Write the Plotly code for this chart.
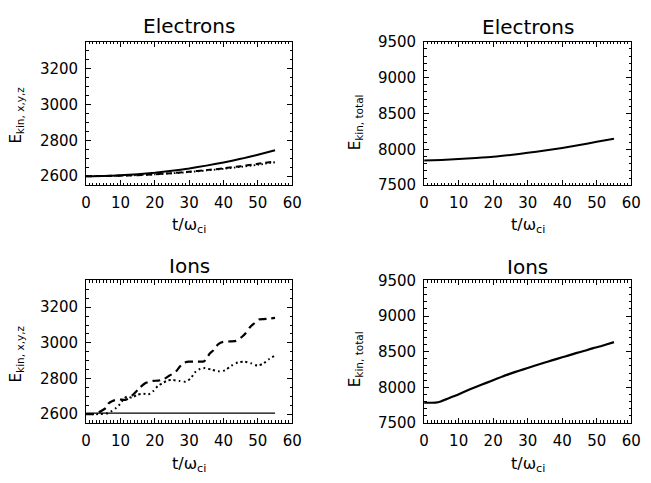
import plotly.graph_objects as go

W, H = 651, 483
FONT = "DejaVu Sans"

# ---------------- data ----------------
# Electrons, x/y/z components
e_t = [0, 5, 10, 15, 20, 25, 30, 35, 40, 45, 50, 55]
e_x = [2600, 2601, 2605, 2611, 2619, 2630, 2643, 2659, 2677, 2697, 2720, 2745]
e_y = [2600, 2601, 2603, 2606, 2611, 2617, 2625, 2634, 2644, 2656, 2669, 2683]
e_z = [2600, 2601, 2603, 2606, 2610, 2616, 2623, 2632, 2641, 2652, 2664, 2678]

# Electrons, total
et_t = [0, 5, 10, 15, 20, 25, 30, 35, 40, 45, 50, 55]
et_v = [7843, 7852, 7865, 7880, 7897, 7922, 7951, 7983, 8019, 8060, 8105, 8148]

# Ions, x component (flat)
i_x_t = [0, 10, 20, 30, 40, 50, 55]
i_x_v = [2605, 2605, 2605, 2605, 2605, 2605, 2605]

# Ions, y component (dashed)
i_y_t = [0, 2, 2.9, 4.4, 5.8, 6.5, 7.7, 9.4, 11.5, 12.5, 13.4, 14.8, 15.7, 17.2, 18.1, 19.5,
         21, 22.5, 24.2, 26.1, 27.3, 28.5, 30, 32, 34.4, 36, 37, 38.5, 39.9, 42, 43.7,
         45.4, 46.5, 47.7, 49, 50.3, 51.7, 53, 55]
i_y_v = [2600, 2600, 2602, 2617, 2635, 2659, 2674, 2682, 2680, 2690, 2704, 2731, 2750, 2773, 2780, 2786,
         2788, 2795, 2815, 2838, 2867, 2888, 2894, 2895, 2897, 2940, 2957, 2993, 3005, 3008, 3011,
         3034, 3055, 3088, 3110, 3131, 3133, 3135, 3140]

# Ions, z component (dotted)
i_z_t = [0, 4, 6.3, 7.2, 8.6, 9.6, 11, 11.9, 13.4, 14.8, 16.7, 18.1, 19.5, 20.9, 22.4, 23.8,
         25.2, 27.1, 29, 30.4, 31.8, 33.2, 34.6, 36.6, 38.5, 40.4, 42.3, 44.2, 46.1, 48,
         49.9, 51.7, 53.2, 55]
i_z_v = [2600, 2600, 2605, 2614, 2632, 2650, 2686, 2698, 2692, 2708, 2714, 2710, 2728, 2758, 2776, 2789,
         2791, 2786, 2782, 2800, 2836, 2854, 2858, 2849, 2840, 2845, 2872, 2890, 2894, 2885,
         2872, 2885, 2908, 2928]

# Ions, total
it_t = [0, 2, 3.3, 4.8, 6.5, 8.6, 11, 13.3, 15.5, 18, 20.5, 22.7, 25, 27.5, 30, 32.2, 35,
        37, 40, 41.7, 44, 46.5, 49, 51.2, 53, 55]
it_v = [7784, 7784, 7786, 7802, 7835, 7874, 7925, 7973, 8015, 8063, 8110, 8153, 8193, 8234, 8272,
        8306, 8348, 8378, 8422, 8446, 8480, 8514, 8550, 8577, 8605, 8635]

titles = ["Electrons", "Electrons", "Ions", "Ions"]
x_label = "t/ω<sub>ci</sub>"
y_label_comp = "E<sub>kin, x,y,z</sub>"
y_label_tot = "E<sub>kin, total</sub>"

# ---------------- layout helpers ----------------
def px_x(p):
    return p / W

def px_y(p):
    return 1 - p / H

# panel pixel boxes: (left, right, top, bottom)
boxes = [(83, 294, 34, 183), (429, 641, 34, 183), (83, 294, 282, 430), (429, 641, 282, 430)]

fig = go.Figure()

black = "black"

def add(x, y, ax, width, dash=None):
    fig.add_trace(go.Scatter(
        x=x, y=y, mode="lines", xaxis="x" + ax, yaxis="y" + ax,
        line=dict(color=black, width=width, dash=dash, shape="spline", smoothing=0.6),
        showlegend=False, hoverinfo="skip"))

# Panel 1: electrons components
add(e_t, e_x, "", 2.0)
add(e_t, e_y, "", 2.0, "6px,4px")
add(e_t, e_z, "", 1.8, "1.5px,2.5px")
# Panel 2: electrons total
add(et_t, et_v, "2", 2.0)
# Panel 3: ions components
add(i_x_t, i_x_v, "3", 1.3)
add(i_y_t, i_y_v, "3", 2.2, "8px,5px")
add(i_z_t, i_z_v, "3", 2.0, "2px,3px")
# Panel 4: ions total
add(it_t, it_v, "4", 2.2)

tickfont = dict(family=FONT, size=15, color=black)

def xaxis_cfg(box, anchor):
    l, r, t, b = box
    return dict(domain=[px_x(l), px_x(r)], anchor=anchor, range=[0, 60],
                tick0=0, dtick=10, ticks="inside", ticklen=5, tickwidth=1,
                tickcolor=black, showline=True, linecolor=black, linewidth=1,
                mirror="ticks", showgrid=False, zeroline=False,
                tickfont=tickfont, ticklabelstandoff=4,
                minor=dict(dtick=1, ticks="inside", ticklen=2.5, tickwidth=1, tickcolor=black, showgrid=False))

def yaxis_cfg(box, anchor, rng, tick0, dtick, mdtick):
    l, r, t, b = box
    return dict(domain=[px_y(b), px_y(t)], anchor=anchor, range=rng,
                tick0=tick0, dtick=dtick, ticks="inside", ticklen=5, tickwidth=1,
                tickcolor=black, showline=True, linecolor=black, linewidth=1,
                mirror="ticks", showgrid=False, zeroline=False,
                tickfont=tickfont, ticklabelstandoff=4,
                minor=dict(dtick=mdtick, ticks="inside", ticklen=2.5, tickwidth=1, tickcolor=black, showgrid=False))

layout = dict(
    width=W, height=H, margin=dict(l=0, r=0, t=0, b=0),
    paper_bgcolor="white", plot_bgcolor="white", showlegend=False,
    font=dict(family=FONT, color=black),
    xaxis=xaxis_cfg(boxes[0], "y"),
    yaxis=yaxis_cfg(boxes[0], "x", [2550, 3350], 2600, 200, 50),
    xaxis2=xaxis_cfg(boxes[1], "y2"),
    yaxis2=yaxis_cfg(boxes[1], "x2", [7500, 9500], 7500, 500, 100),
    xaxis3=xaxis_cfg(boxes[2], "y3"),
    yaxis3=yaxis_cfg(boxes[2], "x3", [2550, 3350], 2600, 200, 50),
    xaxis4=xaxis_cfg(boxes[3], "y4"),
    yaxis4=yaxis_cfg(boxes[3], "x4", [7500, 9500], 7500, 500, 100),
)
fig.update_layout(**layout)

annotations = []
title_y = [18, 19, 267, 268]
xt_y = [225, 225, 473, 473]
yt_x = [12, 359, 12, 359]
yt_y = [110, 118, 358, 364]
ylabels = [y_label_comp, y_label_tot, y_label_comp, y_label_tot]
for i, box in enumerate(boxes):
    l, r, t, b = box
    cx = (l + r) / 2
    annotations.append(dict(text=titles[i], x=px_x(cx), y=px_y(title_y[i]), xref="paper", yref="paper",
                            showarrow=False, xanchor="center", yanchor="middle",
                            font=dict(family=FONT, size=20, color=black)))
    annotations.append(dict(text=x_label, x=px_x(cx), y=px_y(xt_y[i]), xref="paper", yref="paper",
                            showarrow=False, xanchor="center", yanchor="middle",
                            font=dict(family=FONT, size=16, color=black)))
    annotations.append(dict(text=ylabels[i], x=px_x(yt_x[i]), y=px_y(yt_y[i]), xref="paper", yref="paper",
                            showarrow=False, xanchor="center", yanchor="middle", textangle=-90,
                            font=dict(family=FONT, size=15, color=black)))
fig.update_layout(annotations=annotations)

fig.write_html("out.html")
